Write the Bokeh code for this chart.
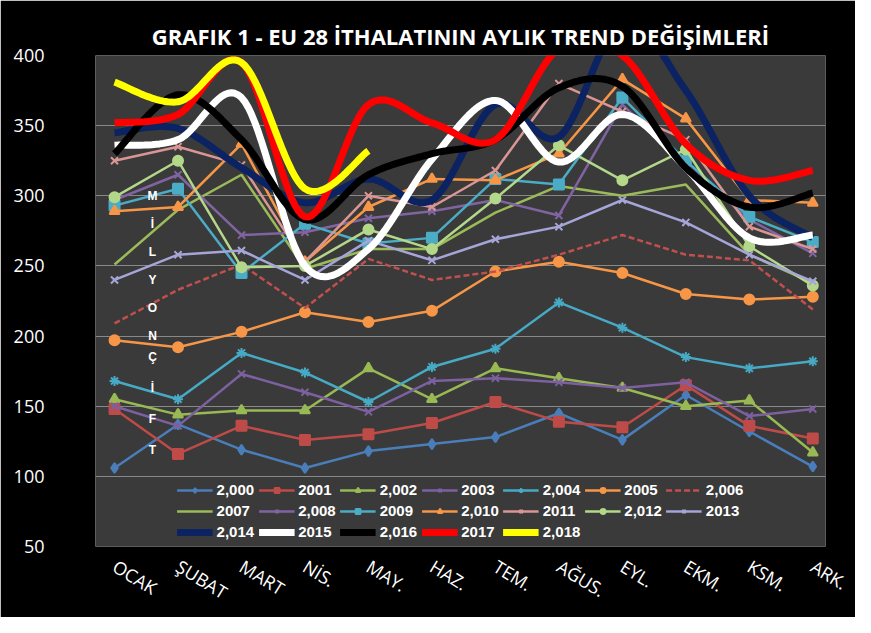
import numpy as np
from bokeh.plotting import figure
from bokeh.models import Legend, LegendItem, Label, FixedTicker, Range1d
from bokeh.embed import file_html
from bokeh.resources import INLINE

months = ["OCAK", "ŞUBAT", "MART", "NİS.", "MAY.", "HAZ.", "TEM.", "AĞUS.", "EYL.", "EKM.", "KSM.", "ARK."]

y2000 = [106, 137, 119, 106, 118, 123, 128, 145, 126, 158, 132, 107]
y2001 = [148, 116, 136, 126, 130, 138, 153, 139, 135, 165, 136, 127]
y2002 = [155, 144, 147, 147, 177, 155, 177, 170, 163, 150, 154, 117]
y2003 = [150, 136, 173, 160, 146, 168, 170, 167, 163, 167, 143, 148]
y2004 = [168, 155, 188, 174, 153, 178, 191, 224, 206, 185, 177, 182]
y2005 = [197, 192, 203, 217, 210, 218, 246, 253, 245, 230, 226, 228]
y2006 = [209, 233, 251, 220, 255, 240, 246, 258, 272, 258, 254, 219]
y2007 = [251, 290, 315, 248, 262, 262, 288, 307, 300, 308, 258, 238]
y2008 = [297, 315, 272, 274, 284, 289, 297, 286, 365, 322, 283, 259]
y2009 = [293, 305, 245, 280, 266, 270, 312, 308, 370, 325, 285, 267]
y2010 = [289, 292, 337, 253, 292, 312, 311, 330, 383, 355, 297, 295]
y2011 = [325, 335, 322, 253, 300, 292, 318, 380, 360, 340, 278, 262]
y2012 = [299, 325, 249, 250, 276, 262, 298, 336, 311, 333, 264, 236]
y2013 = [240, 258, 261, 240, 268, 254, 269, 278, 297, 281, 258, 239]
y2014 = [345, 348, 320, 295, 312, 297, 365, 342, 425, 375, 300, 270]
y2015 = [336, 340, 370, 250, 262, 326, 368, 324, 358, 320, 270, 272]
y2016 = [330, 372, 340, 283, 315, 330, 340, 377, 378, 320, 292, 302]
y2017 = [352, 358, 395, 285, 365, 352, 340, 405, 400, 337, 311, 318]
y2018 = [381, 367, 395, 305, 332]

thin = [
    ("2,000", y2000, "#4a7ebb", "diamond"),
    ("2001", y2001, "#be4b48", "square"),
    ("2,002", y2002, "#98b954", "triangle"),
    ("2003", y2003, "#7d60a0", "x"),
    ("2,004", y2004, "#46aac5", "asterisk"),
    ("2005", y2005, "#f79646", "circle"),
    ("2,006", y2006, "#c0504d", None),
    ("2007", y2007, "#9bbb59", None),
    ("2,008", y2008, "#8064a2", "x"),
    ("2009", y2009, "#4bacc6", "square"),
    ("2,010", y2010, "#f79646", "triangle"),
    ("2011", y2011, "#d99694", "x"),
    ("2,012", y2012, "#b3d88a", "circle"),
    ("2013", y2013, "#a5a5d9", "x"),
]
thick = [
    ("2,014", y2014, "#0b2263"),
    ("2015", y2015, "#ffffff"),
    ("2,016", y2016, "#000000"),
    ("2017", y2017, "#ff0000"),
    ("2,018", y2018, "#ffff00"),
]

def smooth(ys, n=20):
    x = np.arange(len(ys), dtype=float)
    y = np.array(ys, dtype=float)
    px = np.concatenate([[x[0]], x, [x[-1]]])
    py = np.concatenate([[y[0]], y, [y[-1]]])
    ox, oy = [], []
    for i in range(1, len(px) - 2):
        t = np.linspace(0, 1, n)
        for arr, out in ((px, ox), (py, oy)):
            p0, p1, p2, p3 = arr[i-1], arr[i], arr[i+1], arr[i+2]
            out.extend(0.5 * ((2*p1) + (-p0+p2)*t + (2*p0-5*p1+4*p2-p3)*t**2 + (-p0+3*p1-3*p2+p3)*t**3))
    return ox, oy

p = figure(width=855, height=617, output_backend="svg", toolbar_location=None,
           x_range=Range1d(-0.3, 11.2), y_range=Range1d(50, 400),
           background_fill_color="#3a3a3a", border_fill_color="#000000",
           min_border_left=95, min_border_right=30, min_border_top=55, min_border_bottom=68,
           outline_line_color=None)
p.title.text = "GRAFIK 1 - EU 28 İTHALATININ AYLIK TREND DEĞİŞİMLERİ"
p.title.text_color = "white"
p.title.text_font = "Open Sans"
p.title.text_font_size = "22px"
p.title.align = "center"
p.title.text_font_style = "bold"

p.xgrid.grid_line_color = None
p.ygrid.grid_line_color = "#888888"
p.ygrid.grid_line_width = 1
p.yaxis.ticker = FixedTicker(ticks=[50, 100, 150, 200, 250, 300, 350, 400])
p.xaxis.ticker = FixedTicker(ticks=list(range(12)))
p.xaxis.major_label_overrides = {i: m for i, m in enumerate(months)}
p.xaxis.major_label_orientation = -0.55
for ax in (p.xaxis, p.yaxis):
    ax.axis_line_color = None
    ax.major_tick_line_color = None
    ax.minor_tick_line_color = None
    ax.major_label_text_color = "white"
    ax.major_label_text_font = "Open Sans"
    ax.major_label_text_font_size = "18px"
p.yaxis.major_label_standoff = 45
p.xaxis.major_label_standoff = 12

items = []
for name, ys, col, mk in thin:
    x = list(range(len(ys)))
    dash = "6 3" if name == "2,006" else "solid"
    r = p.line(x, ys, line_color=col, line_width=2.5, line_dash=dash)
    rs = [r]
    if mk:
        s = p.scatter(x, ys, marker=mk, size=10, fill_color=col, line_color=col, line_width=2)
        rs.append(s)
    items.append(LegendItem(label=name, renderers=rs))
for name, ys, col in thick:
    sx, sy = smooth(ys)
    r = p.line(sx, sy, line_color=col, line_width=7)
    items.append(LegendItem(label=name, renderers=[r]))

leg = Legend(items=items, location="bottom_center", ncols=7, orientation="horizontal",
             background_fill_alpha=0, border_line_color=None,
             label_text_color="white", label_text_font="Arial", label_text_font_style="bold",
             label_text_font_size="15px", glyph_width=36, glyph_height=12,
             spacing=4, padding=2, margin=6, label_standoff=4)
p.add_layout(leg, "center")

for i, ch in enumerate("MİLYON"):
    p.add_layout(Label(x=57, y=300 - i * 20, x_units="screen", y_units="data", text=ch,
                       text_color="white", text_font_size="12px", text_font_style="bold",
                       text_align="center", text_baseline="middle"))
for i, ch in enumerate("ÇİFT"):
    p.add_layout(Label(x=57, y=185 - i * 22, x_units="screen", y_units="data", text=ch,
                       text_color="white", text_font_size="12px", text_font_style="bold",
                       text_align="center", text_baseline="middle"))

open("out.html", "w").write(file_html(p, INLINE))
